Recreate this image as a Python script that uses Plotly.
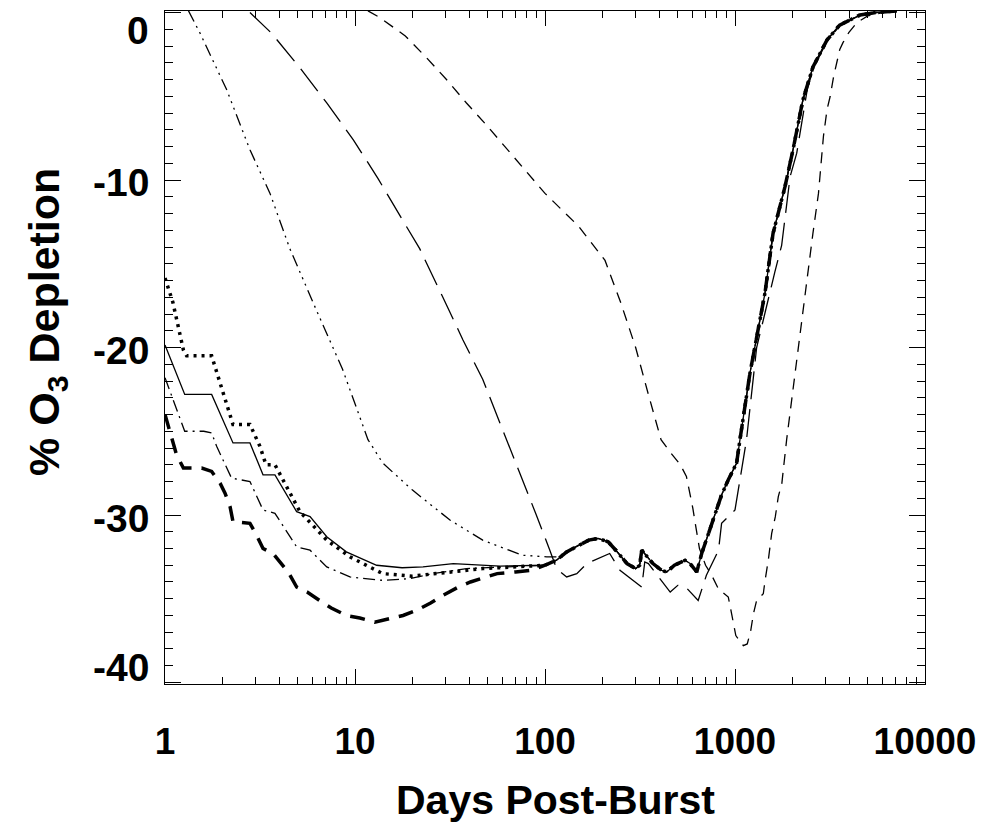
import plotly.graph_objects as go

# ---------------- data ----------------
# shared late-time curve (all runs converge after ~100 days)
late_days = [100, 115, 130, 150, 170, 190, 215, 240, 270, 300, 315, 323, 335, 370, 410, 437,
             480, 546, 580, 629, 668, 738, 766, 850, 922, 1020, 1062, 1200, 1438, 1585, 1833,
             2019, 2278, 2573, 3050, 3555, 4550, 5500, 7100]
late_o3 = [-33.0, -32.7, -32.2, -31.8, -31.5, -31.4, -31.6, -32.2, -32.9, -33.2, -33.0, -32.1,
           -32.3, -32.9, -33.3, -33.4, -33.0, -32.7, -32.9, -33.4, -32.3, -30.9, -30.3, -28.8,
           -27.9, -26.9, -25.5, -21.5, -16.75, -13.2, -10.4, -8.2, -5.2, -3.25, -1.64, -0.75,
           -0.15, 0.0, 0.09]

# thin solid
solid_days = [1, 1.27, 1.76, 2.28, 2.8, 3.28, 3.79, 4.93, 5.8, 7.1, 9.0, 13, 17.7, 22.8, 32.9, 47, 58]
solid_o3 = [-19.85, -22.8, -22.8, -25.7, -25.7, -27.6, -27.6, -29.8, -30.1, -31.3, -32.2, -33.0,
            -33.15, -33.1, -32.9, -33.0, -33.05]

# thick dotted
dot_days = [1, 1.1, 1.25, 1.3, 1.76, 2.28, 2.8, 3.16, 3.4, 3.79, 5.13, 7.1, 9.4, 14, 20, 31.6, 47]
dot_o3 = [-15.85, -17.3, -20.15, -20.5, -20.5, -24.6, -24.6, -25.9, -27.0, -27.0, -29.8, -31.5,
          -32.5, -33.5, -33.65, -33.4, -33.2]

# thin dash-dot
dashdot_days = [1, 1.27, 1.6, 1.76, 1.87, 2.24, 2.8, 3.28, 3.79, 4.93, 5.8, 7.1, 9.4, 14, 19.4, 25.6, 38.6]
dashdot_o3 = [-21.8, -25.0, -25.0, -25.1, -25.9, -27.8, -28.0, -29.7, -29.9, -31.9, -32.1, -33.1,
              -33.7, -33.9, -33.8, -33.5, -33.2]

# thick dashed
thickdash_days = [1, 1.15, 1.25, 1.56, 1.76, 1.95, 2.07, 2.2, 2.28, 2.8, 3.03, 3.28, 3.7, 4.45,
                  4.93, 5.6, 6.5, 7.5, 9, 10.6, 12.7, 15.3, 17.9, 21, 25, 29, 35, 40.5, 49, 56, 70, 85]
thickdash_o3 = [-24.0, -26.4, -27.2, -27.2, -27.4, -28.1, -28.7, -29.5, -30.4, -30.5, -31.2, -32.0,
                -32.3, -33.4, -34.3, -34.6, -35.1, -35.55, -36.0, -36.15, -36.4, -36.2, -36.0,
                -35.7, -35.25, -34.8, -34.3, -34.0, -33.7, -33.5, -33.4, -33.3]

# dash-dot-dot-dot (joins the common curve at ~130 days)
ddd_days = [1.33, 1.53, 2.11, 2.8, 3.57, 4.54, 6.28, 8.6, 11.7, 14, 20, 31.6, 47, 58, 76, 102, 115]
ddd_o3 = [0.1, -1.24, -4.6, -8.2, -10.8, -14.1, -17.8, -21.3, -25.5, -26.9, -28.5, -30.3, -31.5,
          -31.9, -32.4, -32.5, -32.5]

# long dashed
long_days = [2.8, 3.64, 5.13, 7.1, 9.8, 13.2, 17.6, 21.9, 29, 37, 47, 58, 63, 76, 90, 106, 115,
             130, 147, 166, 219, 248, 323, 335, 350, 456, 500, 550, 640, 707, 819, 850, 1000,
             1150, 1300, 1620, 1760, 1950, 2113, 2400, 2573, 3050, 3555, 4550, 5500, 7100]
long_o3 = [0.0, -1.24, -3.3, -5.4, -7.6, -9.9, -12.3, -14.1, -17.0, -19.55, -21.9, -24.5, -25.5,
           -27.8, -30.0, -32.1, -33.2, -33.7, -33.5, -32.9, -32.3, -33.3, -34.3, -32.8, -32.9,
           -34.6, -34.2, -34.3, -35.1, -33.6, -32.1, -30.5, -29.7, -25.5, -20.0, -15.5, -13.9,
           -9.8, -8.4, -4.6, -3.4, -1.7, -0.8, -0.15, 0.0, 0.09]

# short dashed
short_days = [11.7, 13.5, 18.4, 23.8, 30.3, 38.6, 49, 100, 150, 207, 250, 300, 350, 408, 460,
              516, 555, 580, 600, 620, 650, 700, 754, 817, 922, 960, 1010, 1106, 1160, 1210,
              1250, 1300, 1409, 1440, 1497, 1560, 1630, 1690, 1765, 1800, 1870, 2100, 2335,
              2570, 2750, 2850, 2920, 3050, 3170, 3300, 3420, 3560, 3700, 3970, 4380, 5000,
              6000, 7100]
short_o3 = [0.1, -0.3, -1.4, -2.7, -4.0, -5.4, -6.7, -10.8, -12.75, -14.8, -17.3, -20.0, -22.8,
            -25.5, -26.3, -27.0, -27.7, -28.7, -29.6, -30.6, -32.0, -33.0, -33.6, -34.4, -34.9,
            -35.9, -37.2, -37.8, -37.7, -36.9, -35.9, -35.1, -34.7, -33.9, -32.7, -31.1, -30.1,
            -28.9, -28.1, -27.2, -25.5, -21.0, -16.8, -13.2, -10.8, -8.6, -7.4, -5.8, -5.0,
            -3.85, -3.0, -2.2, -1.8, -1.2, -0.6, -0.2, 0.0, 0.09]

x_tick_vals = [1, 10, 100, 1000, 10000]
x_tick_text = ["1", "10", "100", "1000", "10000"]
y_tick_vals = [0, -10, -20, -30, -40]
y_tick_text = ["0", "-10", "-20", "-30", "-40"]

FONT = "Liberation Sans, Arial, sans-serif"

fig = go.Figure()


def add(days, vals, width, dash):
    fig.add_trace(go.Scatter(x=days, y=vals, mode="lines",
                             line=dict(color="black", width=width, dash=dash),
                             showlegend=False, hoverinfo="skip"))


add(solid_days + late_days, solid_o3 + late_o3, 1.3, "solid")
add(dot_days + late_days, dot_o3 + late_o3, 3.5, "3px,5px")
add(dashdot_days + late_days, dashdot_o3 + late_o3, 1.3, "12px,5px,2px,5px")
add(thickdash_days + late_days, thickdash_o3 + late_o3, 3.5, "15px,10px")
add(ddd_days + late_days[2:], ddd_o3 + late_o3[2:], 1.3, "12px,5px,2px,5px,2px,5px,2px,5px")
add(long_days, long_o3, 1.3, "28px,10px")
add(short_days, short_o3, 1.3, "11px,8px")

fig.update_xaxes(type="log", range=[0, 4], showgrid=False, zeroline=False,
                 showline=True, linecolor="black", linewidth=1.2, mirror="ticks",
                 ticks="inside", ticklen=15, tickwidth=1.2, tickcolor="black",
                 tickvals=x_tick_vals, ticktext=x_tick_text, ticklabelstandoff=24,
                 tickfont=dict(family=FONT, size=37, color="black", weight="bold"),
                 minor=dict(ticks="inside", ticklen=7, tickwidth=1.2, tickcolor="black",
                            dtick="D1", showgrid=False))
fig.update_yaxes(range=[-40.09, 0.09], showgrid=False, zeroline=False,
                 showline=True, linecolor="black", linewidth=1.2, mirror="ticks",
                 ticks="inside", ticklen=16, tickwidth=1.2, tickcolor="black",
                 tickvals=y_tick_vals, showticklabels=False,
                 minor=dict(ticks="inside", ticklen=8, tickwidth=1.2, tickcolor="black",
                            dtick=1, tick0=0, showgrid=False))

annotations = []
shifts = [-18, -2.5, -2.5, -3, 15]
for v, t, s in zip(y_tick_vals, y_tick_text, shifts):
    annotations.append(dict(x=0, xref="paper", y=v, yref="y", text=t, showarrow=False,
                            xanchor="right", yanchor="middle", xshift=-14, yshift=s,
                            font=dict(family=FONT, size=39, color="black", weight="bold")))
annotations.append(dict(x=0.514, xref="paper", y=0, yref="paper", yshift=-116,
                        text="Days Post-Burst", showarrow=False, xanchor="center",
                        yanchor="middle",
                        font=dict(family=FONT, size=41, color="black", weight="bold")))
annotations.append(dict(x=0, xref="paper", xshift=-118, y=0.538, yref="paper",
                        text="% O<sub>3</sub> Depletion", showarrow=False, textangle=-90,
                        xanchor="center", yanchor="middle",
                        font=dict(family=FONT, size=43, color="black", weight="bold")))

# the page body adds an 8px offset, so the figure is 8px smaller than the window
fig.update_layout(width=983, height=825, paper_bgcolor="white", plot_bgcolor="white",
                  margin=dict(l=157, r=66, t=3, b=149), annotations=annotations)

fig.write_html("out.html")
